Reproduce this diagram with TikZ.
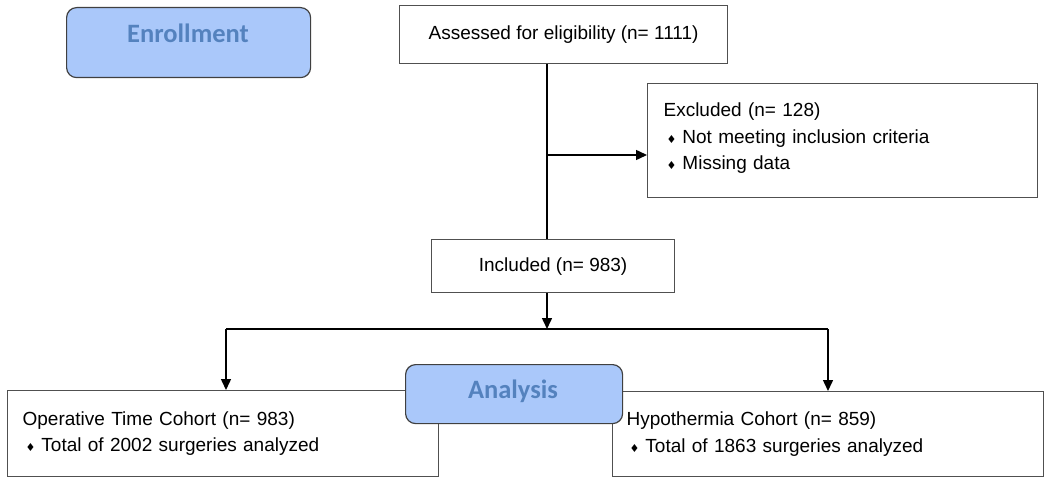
\documentclass[tikz,border=0pt]{standalone}
\usepackage{fontspec}
\setmainfont{Liberation Sans}
\newfontfamily\calibfont{Carlito}
\newfontfamily\djvfont{DejaVu Sans}
\usetikzlibrary{arrows.meta}
\definecolor{hdrfill}{RGB}{170,200,250}
\definecolor{hdrtext}{RGB}{84,130,190}
\definecolor{boxline}{RGB}{80,80,80}
\newcommand{\bulitem}{\hspace*{3pt}{\djvfont\fontsize{11}{11}\selectfont ♦}\hspace{6pt}}
\begin{document}
\begin{tikzpicture}[x=1pt,y=-1pt,
  box/.style={draw=boxline, line width=1.2pt, fill=white, inner ysep=0pt, font=\fontsize{19}{26.5}\selectfont},
  hdr/.style={draw=black!75, line width=1.2pt, fill=hdrfill, rounded corners=10pt, inner sep=0pt},
  hdrtxt/.style={text=hdrtext, font=\calibfont\bfseries\fontsize{26.5}{28}\selectfont},
  conn/.style={line width=1.5pt, black},
  arr/.style={conn, -{Triangle[length=11pt,width=10pt]}}]
\useasboundingbox (0,0) rectangle (1050,484);

% boxes
\node[box, minimum width=328pt, minimum height=58pt, anchor=north west] (assessed) at (399,5) {Assessed for eligibility (n= 1111)};
\node[box, text width=358pt, inner xsep=16pt, minimum height=114pt, align=left, anchor=north west] (excluded) at (647,83)
  {Excluded (n= 128)\\ \bulitem Not meeting inclusion criteria\\ \bulitem Missing data\\[-18pt]\mbox{}};
\node[box, minimum width=243pt, minimum height=53pt, anchor=north west] (included) at (431,239) {Included (n= 983)};
\node[box, text width=401pt, inner xsep=15pt, minimum height=86pt, align=left, anchor=north west] (optime) at (7,390)
  {Operative Time Cohort (n= 983)\\ \bulitem Total of 2002 surgeries analyzed};
\node[box, text width=403pt, inner xsep=14pt, minimum height=85pt, align=left, anchor=north west] (hypo) at (612,391)
  {Hypothermia Cohort (n= 859)\\ \bulitem Total of 1863 surgeries analyzed};

% connectors
\coordinate (trunk) at (547,0);
\coordinate (exy) at (0,155);
\coordinate (bar) at (0,329);
\coordinate (barL) at (226,329);
\coordinate (barR) at (828,329);
\draw[conn] (trunk |- assessed.south) -- (trunk |- included.north);
\draw[arr] (trunk |- exy) -- (excluded.west |- exy);
\draw[arr] (trunk |- included.south) -- (trunk |- bar);
\draw[conn] (barL) -- (barR);
\draw[arr] (barL) -- (barL |- optime.north);
\draw[arr] (barR) -- (barR |- hypo.north);

% headers
\node[hdr, minimum width=244pt, minimum height=70pt, anchor=north west] (enroll) at (66,7) {};
\node[hdrtxt] (enrolltxt) at (188,33) {Enrollment};
\node[hdr, minimum width=217pt, minimum height=59pt, anchor=north west] (analysis) at (405,364) {};
\node[hdrtxt] (analysistxt) at (513,391) {Analysis};
\end{tikzpicture}
\end{document}
